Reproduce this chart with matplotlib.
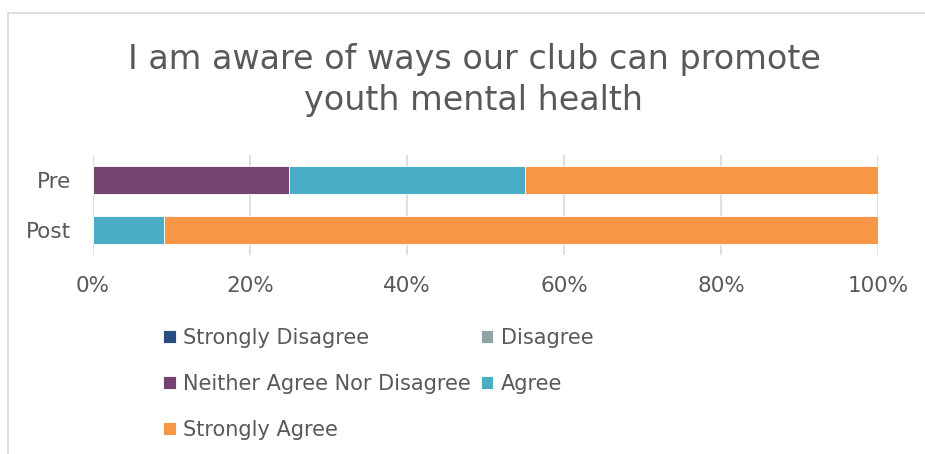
import matplotlib.pyplot as plt
from matplotlib.lines import Line2D

# Survey responses, share of respondents (%)
groups = ["Pre", "Post"]
levels = ["Strongly Disagree", "Disagree", "Neither Agree Nor Disagree",
          "Agree", "Strongly Agree"]
strongly_disagree = [0, 0]
disagree = [0, 0]
neither = [25, 0]
agree = [30, 9.1]
strongly_agree = [45, 90.9]

colors = ["#264E80", "#8FA3A6", "#74436F", "#4BACC6", "#F79646"]
TEXT = "#595959"
GRID = "#D9D9D9"

fig = plt.figure(figsize=(9.25, 4.54), dpi=100)
ax = fig.add_axes([93 / 925, 1 - 255 / 454, 785 / 925, 100 / 454])

ypos = [1, 0]
left = [0, 0]
handles = []
for name, vals, col in zip(levels,
                           [strongly_disagree, disagree, neither, agree, strongly_agree],
                           colors):
    h = ax.barh(ypos, vals, left=left, height=0.56, color=col, label=name,
                edgecolor="white", linewidth=0.6)
    handles.append(h)
    left = [a + b for a, b in zip(left, vals)]

ax.set_xlim(0, 100)
ax.set_ylim(-0.5, 1.5)
ax.set_xticks(range(0, 101, 20))
ax.set_xticklabels([f"{v}%" for v in range(0, 101, 20)])
ax.set_yticks(ypos)
ax.set_yticklabels(groups)
ax.tick_params(length=0, labelsize=15.5, colors=TEXT)
ax.tick_params(axis="x", pad=15)
ax.tick_params(axis="y", pad=16)
ax.grid(axis="x", color=GRID, linewidth=1.2)
ax.set_axisbelow(True)
for s in ax.spines.values():
    s.set_visible(False)

fig.text(474 / 925, 1 - 80 / 454,
         "I am aware of ways our club can promote\nyouth mental health",
         ha="center", va="center", fontsize=24, color=TEXT, linespacing=1.3)

# column-major order for a row-wise two-column legend
order = [0, 2, 4, 1, 3]
fig.legend([handles[i] for i in order], [levels[i] for i in order],
           loc="upper left", bbox_to_anchor=(163 / 925, 1 - 328 / 454),
           ncol=2, frameon=False, fontsize=15, labelcolor=TEXT,
           handlelength=0.6, handleheight=0.6, handletextpad=0.35,
           labelspacing=1.25, columnspacing=0.5, borderpad=0, borderaxespad=0)

# light outer border of the chart area
fig.add_artist(Line2D([8 / 925, 8 / 925], [0, 1 - 13 / 454],
                      transform=fig.transFigure, color=GRID, linewidth=1.2))
fig.add_artist(Line2D([8 / 925, 1], [1 - 13 / 454, 1 - 13 / 454],
                      transform=fig.transFigure, color=GRID, linewidth=1.2))

fig.savefig("out.png", dpi=100)
